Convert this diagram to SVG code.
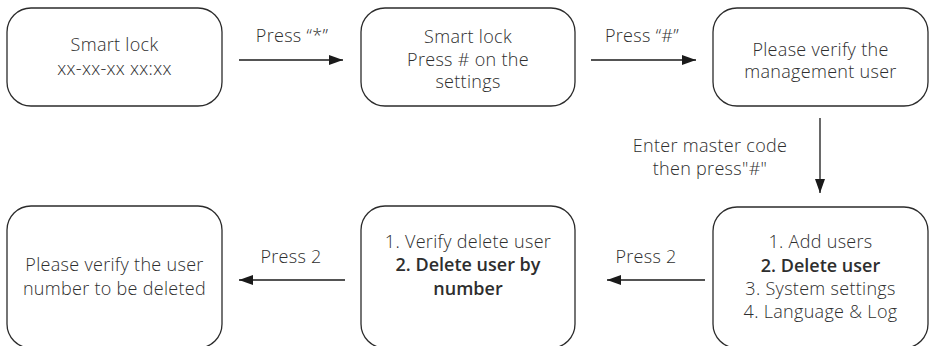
<svg xmlns="http://www.w3.org/2000/svg" width="933" height="346" viewBox="0 0 933 346">
<defs>
<style>
.box{fill:#fff;stroke:#2b2b2b;stroke-width:1.3}
.t{font-family:"Open Sans","Noto Sans",sans-serif;font-size:18px;font-weight:350;letter-spacing:0.3px;fill:#2e2e2e;text-anchor:middle}
.b{font-weight:650;letter-spacing:0}
.c{stroke:#1a1a1a;stroke-width:1.3;fill:none}
</style>
<marker id="ah" viewBox="0 0 14 10" refX="14" refY="5" markerWidth="14" markerHeight="10" markerUnits="userSpaceOnUse" orient="auto">
<path d="M0,0 L14,5 L0,10 Z" fill="#1a1a1a"/>
</marker>
</defs>
<rect width="933" height="346" fill="#fff"/>
<g id="n1">
<rect class="box" x="7" y="8" width="215" height="98" rx="24"/>
<text class="t" x="114.5" y="51">Smart lock</text>
<text class="t" x="114.5" y="75">xx-xx-xx xx:xx</text>
</g>
<g id="n2">
<rect class="box" x="361" y="8" width="214" height="98" rx="24"/>
<text class="t" x="468" y="43">Smart lock</text>
<text class="t" x="468" y="66">Press # on the</text>
<text class="t" x="468" y="88">settings</text>
</g>
<g id="n3">
<rect class="box" x="713" y="8" width="215" height="98" rx="24"/>
<text class="t" x="820.5" y="56">Please verify the</text>
<text class="t" x="820.5" y="78">management user</text>
</g>
<g id="n4">
<rect class="box" x="713" y="207" width="215" height="141" rx="24"/>
<text class="t" x="820.5" y="248">1. Add users</text>
<text class="t b" x="820.5" y="272">2. Delete user</text>
<text class="t" x="820.5" y="295">3. System settings</text>
<text class="t" x="820.5" y="318">4. Language &amp; Log</text>
</g>
<g id="n5">
<rect class="box" x="361" y="206" width="214" height="142" rx="24"/>
<text class="t" x="468" y="248">1. Verify delete user</text>
<text class="t b" x="468" y="271">2. Delete user by</text>
<text class="t b" x="468" y="295">number</text>
</g>
<g id="n6">
<rect class="box" x="7" y="206" width="215" height="142" rx="24"/>
<text class="t" x="114.5" y="271">Please verify the user</text>
<text class="t" x="114.5" y="295">number to be deleted</text>
</g>
<g id="connectors">
<line class="c" x1="239" y1="60" x2="343" y2="60" marker-end="url(#ah)"/>
<line class="c" x1="591" y1="60" x2="696" y2="60" marker-end="url(#ah)"/>
<line class="c" x1="820" y1="118" x2="820" y2="193" marker-end="url(#ah)"/>
<line class="c" x1="705" y1="280" x2="607" y2="280" marker-end="url(#ah)"/>
<line class="c" x1="345" y1="280" x2="239" y2="280" marker-end="url(#ah)"/>
<text class="t" x="292" y="42">Press “*”</text>
<text class="t" x="642" y="42">Press “#”</text>
<text class="t" x="710" y="152">Enter master code</text>
<text class="t" x="710" y="175">then press"#"</text>
<text class="t" x="646" y="263">Press 2</text>
<text class="t" x="291" y="263">Press 2</text>
</g>
</svg>
